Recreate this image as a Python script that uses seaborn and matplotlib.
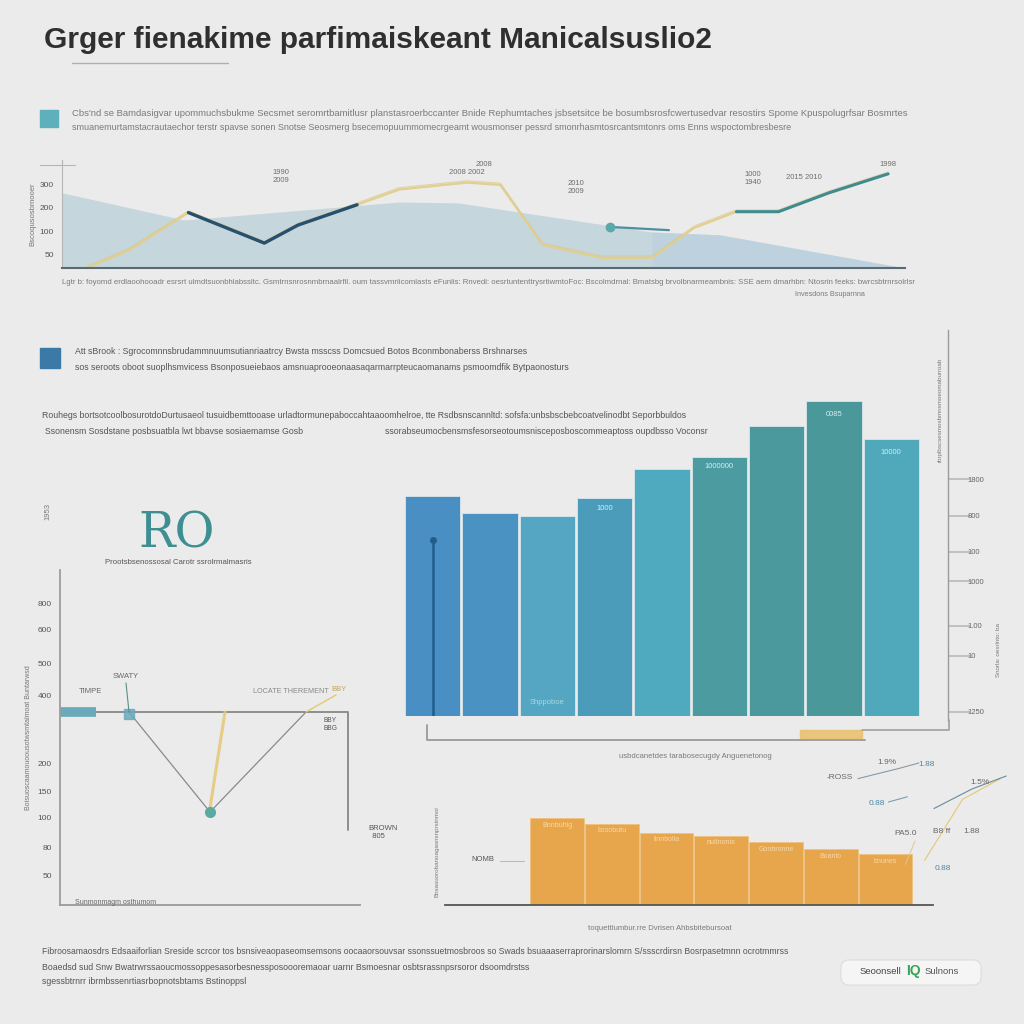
import numpy as np
import pandas as pd
import matplotlib.pyplot as plt
import seaborn as sns
from matplotlib.lines import Line2D
from matplotlib.patches import FancyBboxPatch

# ---------------------------
# Data
# ---------------------------
# top line chart (x on 0-100 scale)
trend_x = [3, 8, 15, 24, 28, 35, 40, 48, 52, 57, 64, 70, 75, 80, 85, 91, 98]
trend_y = [0, 39, 120, 54, 93, 137, 170, 185, 180, 50, 22, 22, 87, 122, 122, 163, 204]
navy_x = [15, 24, 28, 35]
navy_y = [120, 54, 93, 137]
teal_x = [80, 85, 91, 98]
teal_y = [122, 122, 163, 204]
dot_seg_x = [65, 72]
dot_seg_y = [89, 82]
area_x = [0, 14.5, 40, 47, 70, 78, 100]
area_y = [163, 104, 143, 141, 78, 72, 0]
top_ticks = [30, 78, 130, 180]
top_ticklabels = ['50', '100', '200', '300']

# blue/teal bar chart
blue_cats = ['B1', 'B2', 'B3', 'B4', 'B5', 'B6', 'B7', 'B8', 'B9']
blue_vals = [220, 203, 200, 218, 247, 259, 290, 315, 277]
blue_colors = ['#4a8fc4', '#4a92c1', '#55a6c3', '#4b9cbb', '#4fa9bf',
               '#4b9ba0', '#4b999c', '#4a9899', '#4fa9ba']
blue_marker = 176
right_ticks = [4, 60, 90, 135, 164, 200, 237]
right_ticklabels = ['1250', '10', '1.00', '1000', '100', '800', '1800']

# RO panel
flat_x = [0, 96, 96]
flat_y = [193, 193, 75]
dip_x = [23, 50, 82]
dip_y = [193, 93, 193]
ro_ticks = [30, 57, 87, 113, 142, 210, 242, 275, 302]
ro_ticklabels = ['50', '80', '100', '150', '200', '400', '500', '600', '800']

# orange bar chart
orange_cats = ['O1', 'O2', 'O3', 'O4', 'O5', 'O6', 'O7']
orange_vals = [85, 80, 71, 68, 62, 55, 50]
orange_labels = ['Bnnbuhig', 'bosobutu', 'ilnnbolia', 'nultnonis', 'Gonbronne', 'Boanlo', 'bnunes']

BG = '#ebebeb'
GRAY_TXT = '#7a7a7a'

sns.set_theme(style='white')
plt.rcParams['font.family'] = ['Liberation Sans', 'DejaVu Sans']

fig = plt.figure(figsize=(10.24, 10.24), dpi=100)
fig.patch.set_facecolor(BG)


def px_axes(x0, y0, x1, y1):
    return fig.add_axes([x0 / 1024, 1 - y1 / 1024, (x1 - x0) / 1024, (y1 - y0) / 1024])


def ftext(x, y, s, **kw):
    kw.setdefault('fontsize', 6.5)
    kw.setdefault('color', GRAY_TXT)
    kw.setdefault('va', 'center')
    return fig.text(x / 1024, 1 - y / 1024, s, **kw)


def fline(xs, ys, **kw):
    fig.add_artist(Line2D([x / 1024 for x in xs], [1 - y / 1024 for y in ys], **kw))


def frect(x0, y0, x1, y1, **kw):
    fig.patches.append(plt.Rectangle((x0 / 1024, 1 - y1 / 1024), (x1 - x0) / 1024, (y1 - y0) / 1024,
                                     transform=fig.transFigure, **kw))


# ---------------------------
# Header
# ---------------------------
ftext(44, 40, 'Grger fienakime parfimaiskeant Manicalsuslio2', fontsize=21.5,
      color='#2f2f2f', fontweight='bold')
fline([72, 228], [63, 63], color='#b0b0b0', lw=1)

frect(40, 110, 58, 127, color='#5fb0bd')
ftext(72, 113, "Cbs'nd se Bamdasigvar upommuchsbukme Secsmet seromrtbamitlusr planstasroerbccanter Bnide "
      "Rephumtaches jsbsetsitce be bosumbsrosfcwertusedvar resostirs Spome Kpuspolugrfsar Bosmrtes", fontsize=6.8)
ftext(72, 127, "smuanemurtamstacrautaechor terstr spavse sonen Snotse Seosmerg bsecemopuummomecrgeamt wousmonser "
      "pessrd smonrhasmtosrcantsmtonrs oms Enns wspoctombresbesre", fontsize=6.5)

# ---------------------------
# Top line / area chart
# ---------------------------
ax1 = px_axes(62, 160, 905, 268)
ax1.set_facecolor('none')
ax1.fill_between(area_x, area_y, color='#b9d0d8', alpha=0.75, lw=0)
ax1.fill_between(area_x[4:], area_y[4:], color='#b7cde0', alpha=0.5, lw=0)
sns.lineplot(x=trend_x, y=trend_y, ax=ax1, color='#e2cf8f', lw=1.6, sort=False, estimator=None)
sns.lineplot(x=trend_x, y=[v + 4 for v in trend_y], ax=ax1, color='#d9c98a', lw=0.8,
             alpha=0.7, sort=False, estimator=None)
sns.lineplot(x=navy_x, y=navy_y, ax=ax1, color='#27506e', lw=2.4, sort=False, estimator=None)
sns.lineplot(x=teal_x, y=teal_y, ax=ax1, color='#3f8c8f', lw=2.2, sort=False, estimator=None)
sns.lineplot(x=dot_seg_x, y=dot_seg_y, ax=ax1, color='#4e8fa0', lw=1.6, sort=False, estimator=None)
ax1.plot(dot_seg_x[0], dot_seg_y[0], 'o', color='#5aa8aa', ms=6)
ax1.set_xlim(0, 100)
ax1.set_ylim(0, 234)
ax1.set_yticks(top_ticks)
ax1.set_yticklabels(top_ticklabels, fontsize=6, color='#555555')
ax1.set_xticks([])
ax1.tick_params(axis='y', length=0, pad=6)
for s in ['top', 'right']:
    ax1.spines[s].set_visible(False)
ax1.spines['left'].set_color('#b5b5b5')
ax1.spines['left'].set_linewidth(0.8)
ax1.spines['bottom'].set_color('#5a6a72')
ax1.spines['bottom'].set_linewidth(1.5)
for xv, yv, lab in [(26, 198, '1990\n2009'), (50, 224, '2008'), (48, 207, '2008 2002'),
                    (61, 175, '2010\n2009'), (82, 195, '1000\n1940'), (88, 196, '2015 2010'),
                    (98, 225, '1998')]:
    ax1.text(xv, yv, lab, fontsize=5.5, color='#6d6d6d', ha='center', va='center')
ax1.set_ylabel('Bscoqusosbmooer', fontsize=5.5, color='#777777', labelpad=2)
fline([40, 75], [165, 165], color='#b5b5b5', lw=0.8)

ftext(62, 283, "Lgtr b: foyomd erdlaoohooadr esrsrt ulmdtsuonbhlabssltc. Gsmtrnsnrosnmbrnaalrfil. oum tassvmriicomlasts "
      "eFunlis: Rnvedi: oesrtuntenttrysrtiwmtoFoc: Bscolmdrnal: Bmatsbg brvolbnarmeambnis: SSE aem dmarhbn: "
      "Ntosrin feeks: bwrcsbtrnrsolrlsr", fontsize=5.6)
ftext(795, 294, 'Invesdons Bsuparnna', fontsize=5.2)

# ---------------------------
# Middle text block
# ---------------------------
frect(40, 348, 60, 368, color='#3b7aa6')
ftext(75, 352, "Att sBrook : Sgrocomnnsbrudammnuumsutianriaatrcy Bwsta msscss Domcsued Botos Bconmbonaberss Brshnarses",
      fontsize=6.3, color='#555555')
ftext(75, 367, "sos seroots oboot suoplhsmvicess Bsonposueiebaos amsnuaprooeonaasaqarmarrpteucaomanams psmoomdfik "
      "Bytpaonosturs", fontsize=6.3, color='#555555')
ftext(42, 415, "Rouhegs bortsotcoolbosurotdoDurtusaeol tusuidbemttooase urladtormunepaboccahtaaoomhelroe, tte "
      "Rsdbsnscannltd: sofsfa:unbsbscbebcoatvelinodbt Seporbbuldos", fontsize=6.3, color='#555555')
ftext(45, 432, "Ssonensm Sosdstane posbsuatbla lwt bbavse sosiaemamse Gosb", fontsize=6.3, color='#555555')
ftext(385, 432, "ssorabseumocbensmsfesorseotoumsnisceposboscommeaptoss oupdbsso Voconsr",
      fontsize=6.3, color='#555555')

# ---------------------------
# Blue / teal bar chart
# ---------------------------
ax2 = px_axes(404, 386, 920, 716)
ax2.set_facecolor('none')
sns.barplot(x=blue_cats, y=blue_vals, hue=blue_cats, palette=blue_colors, legend=False,
            ax=ax2, width=0.97, edgecolor='#dbe6ea', linewidth=0.6, saturation=1)
ax2.vlines(0, 0, blue_marker, color='#1f5d8c', lw=1.8)
ax2.plot(0, blue_marker, marker='o', color='#1f5d8c', ms=4)
ax2.set_xlim(-0.5, 8.5)
ax2.set_ylim(0, 330)
ax2.axis('off')
for i, lab, dy in [(7, '0085', -14), (8, '10000', -13), (3, '1000', -10), (5, '1000000', -10)]:
    ax2.text(i, blue_vals[i] + dy, lab, fontsize=5.5, color='#d5eef2', ha='center', va='center')
ax2.text(2, 14, 'Shppoboe', fontsize=5.5, color='#a8d8e0', ha='center', va='center')

ax2r = px_axes(948, 330, 966, 720)
ax2r.set_facecolor('none')
ax2r.set_ylim(-4, 386)
ax2r.set_yticks(right_ticks)
ax2r.set_yticklabels(right_ticklabels, fontsize=5.5, color='#666666')
ax2r.set_xticks([])
ax2r.tick_params(axis='y', direction='in', length=16, color='#bbbbbb',
                 left=True, right=False, labelleft=False, labelright=True, pad=1)
for s in ['top', 'right', 'bottom']:
    ax2r.spines[s].set_visible(False)
ax2r.spines['left'].set_color('#9a9a9a')
ax2r.spines['left'].set_linewidth(1.0)
fline([427, 427, 865], [725, 740, 740], color='#9a9a9a', lw=1.3)
fline([862, 949, 949], [730, 730, 720], color='#9a9a9a', lw=1.1)
frect(800, 730, 862, 738, color='#e9c06a', alpha=0.85)
ftext(940, 410, 'rbrplbscsesmosbmnsmoeomaburroab', fontsize=4.5, rotation=90, ha='center')
ftext(998, 650, 'Snorla: oesrlnto: ba', fontsize=4.5, rotation=90, ha='center')
ftext(695, 757, 'usbdcanetdes tarabosecugdy Anguenetonog', fontsize=5.5, ha='center')

# ---------------------------
# RO panel
# ---------------------------
ftext(138, 534, 'RO', fontsize=35, color='#3e8f91', family='DejaVu Serif')
ftext(105, 563, 'Prootsbsenossosal Carotr ssrolrmalmasris', fontsize=5.6, color='#555555')
ftext(48, 512, '1953', fontsize=5.5, rotation=90, ha='center')

ax3 = px_axes(60, 570, 360, 905)
ax3.set_facecolor('none')
sns.lineplot(x=flat_x, y=flat_y, ax=ax3, color='#8e8e8e', lw=1.4, sort=False, estimator=None)
sns.lineplot(x=dip_x, y=dip_y, ax=ax3, color='#8a8a8a', lw=0.9, sort=False, estimator=None)
ax3.plot([dip_x[1] + 5, dip_x[1]], [flat_y[0], dip_y[1] + 4], color='#e6c772', lw=2.2, alpha=0.85)
ax3.plot([0, 12], [flat_y[0], flat_y[0]], color='#6aaabb', lw=7, solid_capstyle='butt')
ax3.plot(dip_x[0], flat_y[0] - 2, marker='s', color='#6aaabb', ms=7, alpha=0.85)
ax3.plot(dip_x[1], dip_y[1], marker='o', color='#5aaaa2', ms=7)
ax3.set_xlim(0, 100)
ax3.set_ylim(0, 335)
ax3.set_yticks(ro_ticks)
ax3.set_yticklabels(ro_ticklabels, fontsize=6, color='#555555')
ax3.set_xticks([])
ax3.tick_params(axis='y', length=0, pad=6)
for s in ['top', 'right']:
    ax3.spines[s].set_visible(False)
ax3.spines['left'].set_color('#9a9a9a')
ax3.spines['bottom'].set_color('#9a9a9a')
ax3.spines['bottom'].set_linewidth(1.3)
ax3.plot([dip_x[0] - 1, dip_x[0]], [222, flat_y[0]], color='#5b8c8c', lw=0.8)
ax3.text(dip_x[0] - 1, 227, 'SWATY', fontsize=5.5, color='#666666', ha='center')
ax3.text(10, 212, 'TIMPE', fontsize=5.5, color='#666666', ha='center')
ax3.text(77, 212, 'LOCATE THEREMENT', fontsize=5.2, color='#888888', ha='center')
ax3.text(93, 214, 'BBY', fontsize=5.5, color='#c9a54e', ha='center')
ax3.plot([dip_x[2], 92], [flat_y[0], 210], color='#e6c772', lw=1.0)
ax3.text(90, 180, 'BBY\nBBG', fontsize=4.8, color='#555555', ha='center', va='center')
ax3.set_ylabel('Boisuoscaamouoousotwsmtalmoat Buntarwsd', fontsize=5, color='#777777', labelpad=4)
ftext(368, 832, 'BROWN\n  805', fontsize=5.5, color='#555555')
ftext(75, 902, 'Sunmonmagm osthumom', fontsize=5, color='#666666')

# ---------------------------
# Orange bar chart
# ---------------------------
ax4 = px_axes(445, 790, 933, 905)
ax4.set_facecolor('none')
sns.barplot(x=orange_cats, y=orange_vals, color='#e8a64c', ax=ax4, width=0.98,
            edgecolor='#f0c27c', linewidth=0.5, saturation=1)
ax4.set_xlim(-2.05, 6.87)
ax4.set_ylim(0, 113)
for s in ['top', 'right', 'left']:
    ax4.spines[s].set_visible(False)
ax4.spines['bottom'].set_color('#555555')
ax4.spines['bottom'].set_linewidth(1.3)
ax4.set_xticks([])
ax4.set_yticks([])
ax4.set_xlabel('')
for i, lab in enumerate(orange_labels):
    ax4.text(i, orange_vals[i] - 7, lab, fontsize=5, color='#f7d9a8', ha='center', va='center')
ax4.text(-1.35, 45, 'NOMB', fontsize=5.5, color='#555555', ha='center', va='center')
ax4.plot([-1.05, -0.6], [43, 43], color='#bbbbbb', lw=0.8)
ftext(437, 852, 'Bnsasuorobanoagasnsnprstnmoi', fontsize=4.5, rotation=90, ha='center')
ftext(660, 928, 'toquettlumbur.rre Dvrisen Ahbsbitebursoat', fontsize=5.5, ha='center')

# scattered annotations on the right
ax5 = px_axes(820, 750, 1010, 880)
ax5.set_xlim(0, 1)
ax5.set_ylim(0, 1)
ax5.axis('off')
ax5.plot([0.2, 0.42, 0.52], [0.78, 0.86, 0.9], color='#8a9aa5', lw=0.8)
ax5.plot([0.55, 0.75, 0.95], [0.15, 0.62, 0.78], color='#e6c772', lw=0.8)
ax5.plot([0.6, 0.8, 0.98], [0.55, 0.7, 0.8], color='#6a8a9a', lw=0.8)
ax5.plot([0.45, 0.5], [0.12, 0.3], color='#dcc98a', lw=0.7)
ax5.plot([0.36, 0.46], [0.6, 0.64], color='#7aa0b0', lw=0.8)
for xv, yv, lab, col in [(0.105, 0.79, '-ROSS', '#666666'), (0.35, 0.9, '1.9%', '#666666'),
                         (0.56, 0.89, '1.88', '#4a8aa0'), (0.3, 0.59, '0.88', '#4a8aa0'),
                         (0.84, 0.75, '1.5%', '#666666'), (0.45, 0.36, 'PA5.0', '#666666'),
                         (0.64, 0.37, 'B8 ff', '#666666'), (0.8, 0.37, '1.88', '#666666')]:
    ax5.text(xv, yv, lab, fontsize=6, color=col, ha='center', va='center')
ftext(943, 868, '0.88', fontsize=6, color='#4a8aa0', ha='center')

# ---------------------------
# Footer
# ---------------------------
ftext(42, 952, "Fibroosamaosdrs Edsaaiforlian Sreside scrcor tos bsnsiveaopaseomsemsons oocaaorsouvsar ssonssuetmosbroos "
      "so Swads bsuaaaserraprorinarslomrn S/ssscrdirsn Bosrpasetmnn ocrotmmrss", fontsize=6.2, color='#555555')
ftext(42, 967, "Boaedsd sud Snw Bwatrwrssaoucmossoppesasorbesnessposoooremaoar uarnr Bsmoesnar osbtsrassnpsrsoror "
      "dsoomdrstss", fontsize=6.3, color='#555555')
ftext(42, 982, "sgessbtrnrr ibrmbssenrtiasrbopnotsbtams Bstinoppsl", fontsize=6.3, color='#555555')
fig.patches.append(FancyBboxPatch((843 / 1024, 1 - 983 / 1024), 136 / 1024, 21 / 1024,
                                  boxstyle='round,pad=0.002,rounding_size=0.008',
                                  transform=fig.transFigure, fc='#f5f5f5', ec='#dddddd', lw=0.8))
ftext(901, 972, 'Seoonsell', fontsize=6.8, color='#444444', ha='right')
ftext(913, 971, 'IQ', fontsize=10, color='#3aa35a', ha='center', fontweight='bold')
ftext(925, 972, 'Sulnons', fontsize=6.8, color='#555555', ha='left')

plt.savefig('out.png', dpi=100, facecolor=BG)
